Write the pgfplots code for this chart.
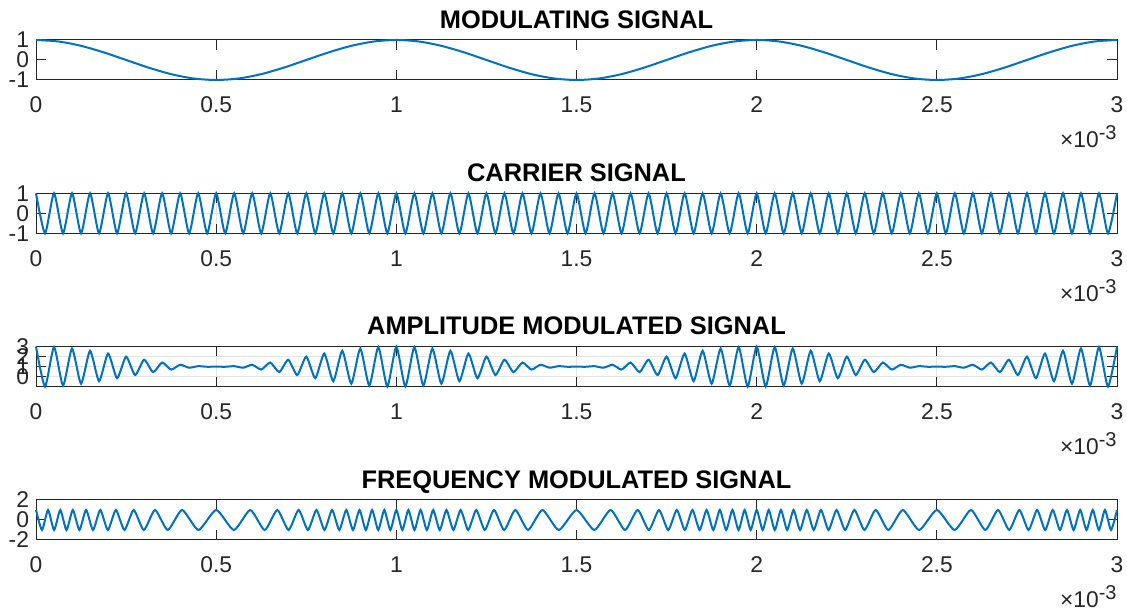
\documentclass[border=0pt]{standalone}
\usepackage{fontspec}
\setmainfont{Liberation Sans}
\usepackage{pgfplots}
\pgfplotsset{compat=1.18}
\definecolor{mblue}{RGB}{0,114,189}
\definecolor{maxis}{RGB}{38,38,38}
\begin{document}
\begin{tikzpicture}
\path[use as bounding box] (0,0) rectangle (563.5pt,306.5pt);
\pgfplotsset{
  sig/.style={
    scale only axis, width=540.5pt, height=20pt, anchor=south west,
    xmin=0, xmax=3,
    xtick={0,0.5,1,1.5,2,2.5,3},
    xticklabels={0,0.5,1,1.5,2,2.5,3},
    axis line style={maxis, line width=0.5pt},
    tick style={maxis, line width=0.5pt},
    major tick length=4.8pt,
    tick align=inside,
    ticklabel style={font=\fontsize{11.4}{12}\selectfont, text=maxis},
    xticklabel style={anchor=base, yshift=-16.5pt},
    every axis title/.style={at={(0.5,1)}, anchor=base, yshift=5.85pt,
      font=\fontsize{12.7}{14}\selectfont\bfseries},
    clip=false,
  },
  sig/.belongs to family=/pgfplots/scale,
}
\tikzset{expo/.style={anchor=base east, inner sep=0pt, text=maxis, font=\fontsize{11.4}{12}\selectfont}}
\newcommand{\expolabel}{×10\raisebox{4pt}{\fontsize{10}{10}\selectfont -3}}

% ---------------- MODULATING ----------------
\begin{axis}[sig, at={(18pt,266.5pt)}, name=ax1,
  ymin=-1, ymax=1, ytick={-1,0,1}, yticklabels={-1,0,1},
  title={MODULATING SIGNAL}]
\addplot[mblue, line width=1pt, smooth] coordinates {
(0,1)(0.0625,0.92388)(0.125,0.70711)(0.1875,0.38268)(0.25,0)(0.3125,-0.38268)(0.375,-0.70711)(0.4375,-0.92388)(0.5,-1)(0.5625,-0.92388)(0.625,-0.70711)(0.6875,-0.38268)(0.75,0)(0.8125,0.38268)(0.875,0.70711)(0.9375,0.92388)
(1,1)(1.0625,0.92388)(1.125,0.70711)(1.1875,0.38268)(1.25,0)(1.3125,-0.38268)(1.375,-0.70711)(1.4375,-0.92388)(1.5,-1)(1.5625,-0.92388)(1.625,-0.70711)(1.6875,-0.38268)(1.75,0)(1.8125,0.38268)(1.875,0.70711)(1.9375,0.92388)
(2,1)(2.0625,0.92388)(2.125,0.70711)(2.1875,0.38268)(2.25,0)(2.3125,-0.38268)(2.375,-0.70711)(2.4375,-0.92388)(2.5,-1)(2.5625,-0.92388)(2.625,-0.70711)(2.6875,-0.38268)(2.75,0)(2.8125,0.38268)(2.875,0.70711)(2.9375,0.92388)
(3,1)};
\end{axis}
\node[expo] at ([yshift=-34pt]ax1.south east) {\expolabel};

% ---------------- CARRIER ----------------
\begin{axis}[sig, at={(18pt,189.83pt)}, name=ax2,
  ymin=-1, ymax=1, ytick={-1,0,1}, yticklabels={-1,0,1},
  grid=major, major grid style={gray!20, line width=0.5pt},
  title={CARRIER SIGNAL}]
\addplot[mblue, line width=1pt, smooth, tension=0.364] coordinates {
(0,1)(0.025,-1)(0.05,1)(0.075,-1)(0.1,1)(0.125,-1)(0.15,1)(0.175,-1)(0.2,1)(0.225,-1)
(0.25,1)(0.275,-1)(0.3,1)(0.325,-1)(0.35,1)(0.375,-1)(0.4,1)(0.425,-1)(0.45,1)(0.475,-1)
(0.5,1)(0.525,-1)(0.55,1)(0.575,-1)(0.6,1)(0.625,-1)(0.65,1)(0.675,-1)(0.7,1)(0.725,-1)
(0.75,1)(0.775,-1)(0.8,1)(0.825,-1)(0.85,1)(0.875,-1)(0.9,1)(0.925,-1)(0.95,1)(0.975,-1)
(1,1)(1.025,-1)(1.05,1)(1.075,-1)(1.1,1)(1.125,-1)(1.15,1)(1.175,-1)(1.2,1)(1.225,-1)
(1.25,1)(1.275,-1)(1.3,1)(1.325,-1)(1.35,1)(1.375,-1)(1.4,1)(1.425,-1)(1.45,1)(1.475,-1)
(1.5,1)(1.525,-1)(1.55,1)(1.575,-1)(1.6,1)(1.625,-1)(1.65,1)(1.675,-1)(1.7,1)(1.725,-1)
(1.75,1)(1.775,-1)(1.8,1)(1.825,-1)(1.85,1)(1.875,-1)(1.9,1)(1.925,-1)(1.95,1)(1.975,-1)
(2,1)(2.025,-1)(2.05,1)(2.075,-1)(2.1,1)(2.125,-1)(2.15,1)(2.175,-1)(2.2,1)(2.225,-1)
(2.25,1)(2.275,-1)(2.3,1)(2.325,-1)(2.35,1)(2.375,-1)(2.4,1)(2.425,-1)(2.45,1)(2.475,-1)
(2.5,1)(2.525,-1)(2.55,1)(2.575,-1)(2.6,1)(2.625,-1)(2.65,1)(2.675,-1)(2.7,1)(2.725,-1)
(2.75,1)(2.775,-1)(2.8,1)(2.825,-1)(2.85,1)(2.875,-1)(2.9,1)(2.925,-1)(2.95,1)(2.975,-1)
(3,1)};
\end{axis}
\node[expo] at ([yshift=-34pt]ax2.south east) {\expolabel};

% ---------------- AM ----------------
\begin{axis}[sig, at={(18pt,113.17pt)}, name=ax3,
  ymin=-1, ymax=3, ytick={0,1,2,3}, yticklabels={0,1,2,3},
  grid=major, major grid style={gray!20, line width=0.5pt},
  title={AMPLITUDE MODULATED SIGNAL}]
\addplot[mblue, line width=1pt, smooth, tension=0.364] coordinates {
(0,3)(0.025,-0.9877)(0.05,2.9511)(0.075,-0.891)(0.1,2.809)(0.125,-0.7071)(0.15,2.5878)(0.175,-0.454)(0.2,2.309)(0.225,-0.1564)
(0.25,2)(0.275,0.1564)(0.3,1.691)(0.325,0.454)(0.35,1.4122)(0.375,0.7071)(0.4,1.191)(0.425,0.891)(0.45,1.0489)(0.475,0.9877)
(0.5,1)(0.525,0.9877)(0.55,1.0489)(0.575,0.891)(0.6,1.191)(0.625,0.7071)(0.65,1.4122)(0.675,0.454)(0.7,1.691)(0.725,0.1564)
(0.75,2)(0.775,-0.1564)(0.8,2.309)(0.825,-0.454)(0.85,2.5878)(0.875,-0.7071)(0.9,2.809)(0.925,-0.891)(0.95,2.9511)(0.975,-0.9877)
(1,3)(1.025,-0.9877)(1.05,2.9511)(1.075,-0.891)(1.1,2.809)(1.125,-0.7071)(1.15,2.5878)(1.175,-0.454)(1.2,2.309)(1.225,-0.1564)
(1.25,2)(1.275,0.1564)(1.3,1.691)(1.325,0.454)(1.35,1.4122)(1.375,0.7071)(1.4,1.191)(1.425,0.891)(1.45,1.0489)(1.475,0.9877)
(1.5,1)(1.525,0.9877)(1.55,1.0489)(1.575,0.891)(1.6,1.191)(1.625,0.7071)(1.65,1.4122)(1.675,0.454)(1.7,1.691)(1.725,0.1564)
(1.75,2)(1.775,-0.1564)(1.8,2.309)(1.825,-0.454)(1.85,2.5878)(1.875,-0.7071)(1.9,2.809)(1.925,-0.891)(1.95,2.9511)(1.975,-0.9877)
(2,3)(2.025,-0.9877)(2.05,2.9511)(2.075,-0.891)(2.1,2.809)(2.125,-0.7071)(2.15,2.5878)(2.175,-0.454)(2.2,2.309)(2.225,-0.1564)
(2.25,2)(2.275,0.1564)(2.3,1.691)(2.325,0.454)(2.35,1.4122)(2.375,0.7071)(2.4,1.191)(2.425,0.891)(2.45,1.0489)(2.475,0.9877)
(2.5,1)(2.525,0.9877)(2.55,1.0489)(2.575,0.891)(2.6,1.191)(2.625,0.7071)(2.65,1.4122)(2.675,0.454)(2.7,1.691)(2.725,0.1564)
(2.75,2)(2.775,-0.1564)(2.8,2.309)(2.825,-0.454)(2.85,2.5878)(2.875,-0.7071)(2.9,2.809)(2.925,-0.891)(2.95,2.9511)(2.975,-0.9877)
(3,3)};
\end{axis}
\node[expo] at ([yshift=-34pt]ax3.south east) {\expolabel};

% ---------------- FM ----------------
\begin{axis}[sig, at={(18pt,36.5pt)}, name=ax4,
  ymin=-2, ymax=2, ytick={-2,0,2}, yticklabels={-2,0,2},
  title={FREQUENCY MODULATED SIGNAL}]
\addplot[mblue, line width=1pt, smooth, tension=0.364] coordinates {
(0,1)(0.01668,-1)(0.03342,1)(0.05028,-1)(0.06733,1)(0.08465,-1)(0.1023,1)(0.12038,-1)(0.139,1)(0.15828,-1)
(0.17835,1)(0.19941,-1)(0.22168,1)(0.24546,-1)(0.27112,1)(0.29919,-1)(0.33035,1)(0.36546,-1)(0.40546,1)(0.45078,-1)
(0.5,1)(0.54922,-1)(0.59454,1)(0.63454,-1)(0.66965,1)(0.70081,-1)(0.72888,1)(0.75454,-1)(0.77832,1)(0.80059,-1)
(0.82165,1)(0.84172,-1)(0.861,1)(0.87962,-1)(0.8977,1)(0.91535,-1)(0.93267,1)(0.94972,-1)(0.96658,1)(0.98332,-1)
(1,1)(1.01668,-1)(1.03342,1)(1.05028,-1)(1.06733,1)(1.08465,-1)(1.1023,1)(1.12038,-1)(1.139,1)(1.15828,-1)
(1.17835,1)(1.19941,-1)(1.22168,1)(1.24546,-1)(1.27112,1)(1.29919,-1)(1.33035,1)(1.36546,-1)(1.40546,1)(1.45078,-1)
(1.5,1)(1.54922,-1)(1.59454,1)(1.63454,-1)(1.66965,1)(1.70081,-1)(1.72888,1)(1.75454,-1)(1.77832,1)(1.80059,-1)
(1.82165,1)(1.84172,-1)(1.861,1)(1.87962,-1)(1.8977,1)(1.91535,-1)(1.93267,1)(1.94972,-1)(1.96658,1)(1.98332,-1)
(2,1)(2.01668,-1)(2.03342,1)(2.05028,-1)(2.06733,1)(2.08465,-1)(2.1023,1)(2.12038,-1)(2.139,1)(2.15828,-1)
(2.17835,1)(2.19941,-1)(2.22168,1)(2.24546,-1)(2.27112,1)(2.29919,-1)(2.33035,1)(2.36546,-1)(2.40546,1)(2.45078,-1)
(2.5,1)(2.54922,-1)(2.59454,1)(2.63454,-1)(2.66965,1)(2.70081,-1)(2.72888,1)(2.75454,-1)(2.77832,1)(2.80059,-1)
(2.82165,1)(2.84172,-1)(2.861,1)(2.87962,-1)(2.8977,1)(2.91535,-1)(2.93267,1)(2.94972,-1)(2.96658,1)(2.98332,-1)
(3,1)};
\end{axis}
\node[expo] at ([yshift=-34pt]ax4.south east) {\expolabel};
\end{tikzpicture}
\end{document}
